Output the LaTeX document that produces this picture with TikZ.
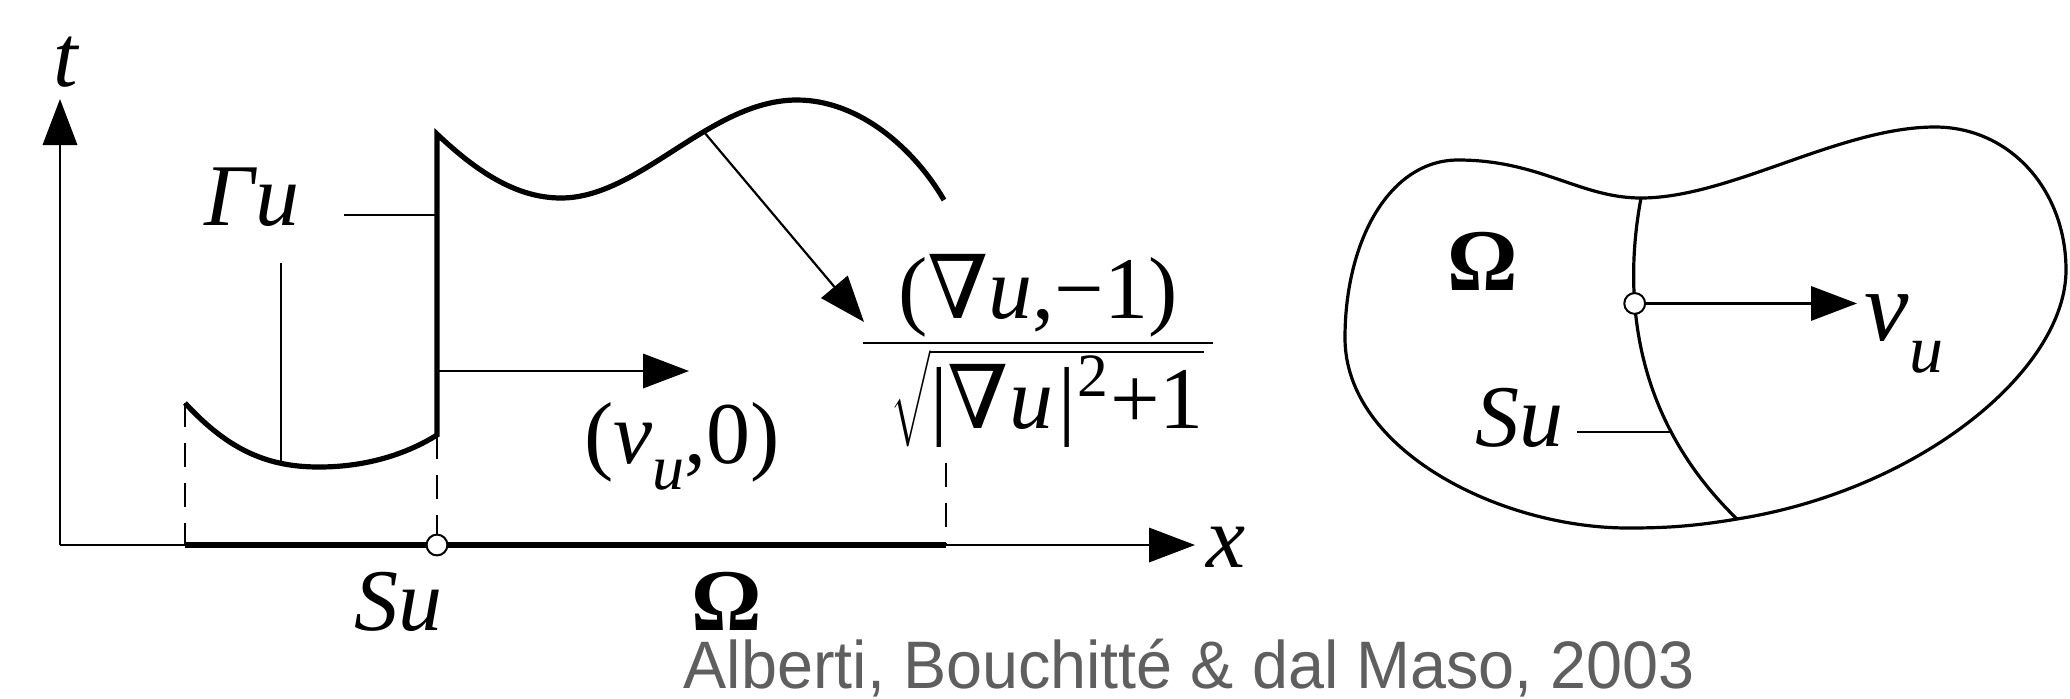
\RequirePackage{fix-cm}
\documentclass[tikz,border=0pt]{standalone}
\usepackage{fontspec}
\setmainfont{Liberation Serif}
\newfontfamily\capfont{Liberation Sans}
\newfontfamily\nablafont{DejaVu Serif}
\usetikzlibrary{arrows.meta}
\definecolor{capgray}{HTML}{5F5F5F}
\begin{document}
\begin{tikzpicture}[x=0.25pt,y=-0.25pt,
  thinline/.style={line width=0.55pt},
  heavy/.style={line width=1.3pt, line join=miter},
  outline/.style={line width=0.8pt},
  tip/.style={-{Triangle[length=11.5pt,width=8.6pt]}},
  dashline/.style={line width=0.5pt, dash pattern=on 6pt off 4pt},
  lbl/.style={font=\fontsize{22}{26}\selectfont\itshape, inner sep=0pt},
  omg/.style={font=\fontsize{22}{26}\selectfont\bfseries, inner sep=0pt},
  txt/.style={font=\fontsize{22}{26}\selectfont, inner sep=0pt},
  dot/.style={circle, draw, fill=white, line width=0.5pt, minimum size=5.2pt, inner sep=0pt}]
\useasboundingbox (0,0) rectangle (2070,698);
% ---------- left graph ----------
\coordinate (O) at (60,545);
\coordinate (ttip) at (60,99);
\coordinate (xtip) at (1195,545);
\coordinate (a) at (185,545);
\coordinate (b) at (946,545);
\coordinate (L0) at (185,403);
\coordinate (J0) at (437,435);
\coordinate (J1) at (437,134);
\coordinate (ed) at (946,463);
\draw[thinline,tip] (O) -- (ttip);
\draw[thinline,tip] (O) -- (xtip);
\draw[heavy] (a) -- (b);
\draw[dashline] (L0) -- (a);
\draw[dashline] (ed) -- (b);
\node[dot] (s1) at (437,545) {};
\draw[dashline] (J0) -- (s1);
\draw[heavy] (L0) .. controls (230,452) and (270,467) .. (319,467)
  .. controls (370,467) and (410,452) .. (J0) -- (J1)
  .. controls (475,170) and (515,198) .. (561,198)
  .. controls (640,198) and (710,100) .. (797,100) coordinate[pos=0.62] (g)
  .. controls (860,100) and (915,150) .. (944,200);
\coordinate (gtip) at (864,322);
\draw[thinline,tip] (g) -- (gtip);
% Gamma u
\node[lbl, anchor=base] (gam) at (252,225) {Γu};
\coordinate (g1) at (344,215);
\coordinate (g2) at (437,215);
\draw[thinline] (g1) -- (g2);
\coordinate (g3) at (281,263);
\coordinate (g4) at (281,461);
\draw[thinline] (g3) -- (g4);
% normal arrow
\coordinate (n0) at (437,371);
\coordinate (n1) at (689,371);
\draw[thinline,tip] (n0) -- (n1);
\node[txt, anchor=base] (nu0) at (682,463)
  {(\textit{ν}\raisebox{-0.3em}{\fontsize{16}{18}\selectfont\textit{u}},0)};
% fraction
\node[txt, anchor=base] (num) at (1038,318)
  {\raisebox{0pt}[\height][1.5pt]{({\nablafont ∇}\textit{u},−1)}};
\coordinate (fb1) at (863,343);
\coordinate (fb2) at (1213,343);
\draw[line width=0.7pt] (fb1) -- (fb2);
\node[txt, anchor=base] (den) at (1047,428)
  {\raisebox{0pt}[18.5pt][4pt]{$\sqrt{\mbox{|{\nablafont ∇}\textit{u|}\textsuperscript{2}+1}}$}};
% axis labels
\node[lbl, anchor=base] (tl) at (66,86) {t};
\node[lbl, anchor=base] (xl) at (1226,567) {x};
\node[lbl, anchor=base] (su) at (398,630) {Su};
\node[omg, anchor=base] (om) at (727,630) {Ω};
% ---------- right domain ----------
\coordinate (D) at (1641,198);
\draw[outline] (D) .. controls (1730,198) and (1840,127) .. (1935,127)
  .. controls (2010,127) and (2066,190) .. (2066,270)
  .. controls (2066,370) and (1920,490) .. (1737,519)
  .. controls (1690,527) and (1660,528) .. (1628,528)
  .. controls (1500,528) and (1345,450) .. (1345,338)
  .. controls (1345,240) and (1390,160) .. (1458,160)
  .. controls (1540,160) and (1580,198) .. (D) -- cycle;
\coordinate (E2) at (1737,519);
\draw[outline] (D) .. controls (1622,300) and (1635,420) .. (E2)
  coordinate[pos=0.33] (c2) coordinate[pos=0.72] (c4);
\node[dot] (s2) at (c2) {};
\coordinate (vtip) at (1857,0);
\draw[thinline,tip] (s2) -- (s2 -| vtip);
\node[inner sep=0pt, anchor=base west, font=\fontsize{25}{28}\selectfont] (nu) at (1864,340)
  {\textit{ν}\raisebox{-0.32em}{\fontsize{17}{19}\selectfont\textit{u}}};
\node[omg, anchor=base] (om2) at (1483,290) {Ω};
\node[lbl, anchor=base] (su2) at (1519,446) {Su};
\coordinate (l1) at (1577,0);
\draw[thinline] (l1 |- c4) -- (c4);
% caption
\node[inner sep=0pt, anchor=base west, text=capgray] (cap) at (683,688)
  {\raisebox{0pt}[12.3pt][3.5pt]{\scalebox{0.963}[1]{\capfont\fontsize{16.8}{20}\selectfont Alberti, Bouchitté \& dal Maso, 2003}}};
\end{tikzpicture}
\end{document}
